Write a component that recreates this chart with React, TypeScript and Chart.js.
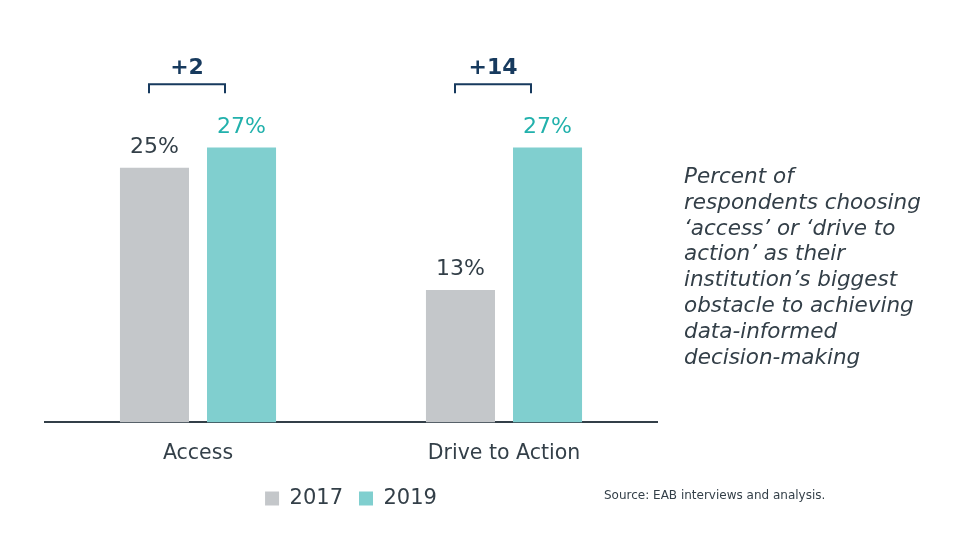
import React, { useEffect, useRef } from 'react';
import Chart from 'chart.js/auto';

const categories = ['Access', 'Drive to Action'];
const years = ['2017', '2019'];
const values2017 = [25, 13];
const values2019 = [27, 27];

const noteLines = [
  'Percent of',
  'respondents choosing',
  '\u2018access\u2019 or \u2018drive to',
  'action\u2019 as their',
  'institution\u2019s biggest',
  'obstacle to achieving',
  'data-informed',
  'decision-making',
];
const sourceText = 'Source: EAB interviews and analysis.';

const FONT = '"DejaVu Sans", Verdana, sans-serif';
const DARK = '#333f48';
const NAVY = '#173a5e';
const GRAY = '#c4c7ca';
const TEAL = '#80cfcf';
const TEAL_TEXT = '#22b1ac';

// value labels above bars + change brackets
const annotatePlugin = {
  id: 'annotate',
  afterDatasetsDraw(chart: any) {
    const ctx = chart.ctx;
    ctx.save();
    ctx.textAlign = 'center';
    ctx.textBaseline = 'alphabetic';
    ctx.font = `22px ${FONT}`;
    chart.data.datasets.forEach((ds: any, i: number) => {
      const meta = chart.getDatasetMeta(i);
      ctx.fillStyle = i === 0 ? DARK : TEAL_TEXT;
      meta.data.forEach((bar: any, j: number) => {
        ctx.fillText(ds.data[j] + '%', bar.x, bar.y - 14.5);
      });
    });

    const xs = chart.scales.x;
    const ys = chart.scales.y;
    const lineY = ys.getPixelForValue(33.2);
    categories.forEach((_, j) => {
      const cx = xs.getPixelForValue(j);
      const left = cx - 49;
      const right = cx + 27;
      ctx.strokeStyle = NAVY;
      ctx.lineWidth = 2;
      ctx.beginPath();
      ctx.moveTo(left, lineY + 9);
      ctx.lineTo(left, lineY);
      ctx.lineTo(right, lineY);
      ctx.lineTo(right, lineY + 9);
      ctx.stroke();
      ctx.fillStyle = NAVY;
      ctx.font = `bold 22px ${FONT}`;
      const diff = values2019[j] - values2017[j];
      ctx.fillText('+' + diff, (left + right) / 2, lineY - 10);
    });
    ctx.restore();
  },
};

const BarChart: React.FC = () => {
  const chartRef = useRef<HTMLCanvasElement>(null);
  const chartInstanceRef = useRef<Chart | null>(null);

  useEffect(() => {
    if (!chartRef.current) return;
    const ctx = chartRef.current.getContext('2d');
    if (!ctx) return;
    if (chartInstanceRef.current) {
      chartInstanceRef.current.destroy();
      chartInstanceRef.current = null;
    }

    chartInstanceRef.current = new Chart(ctx, {
      type: 'bar',
      data: {
        labels: categories,
        datasets: [
          {
            label: years[0],
            data: values2017,
            backgroundColor: GRAY,
            borderWidth: 0,
            categoryPercentage: 0.569,
            barPercentage: 0.793,
          },
          {
            label: years[1],
            data: values2019,
            backgroundColor: TEAL,
            borderWidth: 0,
            categoryPercentage: 0.569,
            barPercentage: 0.793,
          },
        ],
      },
      options: {
        animation: false,
        responsive: true,
        maintainAspectRatio: false,
        layout: { padding: { left: 45, right: 300, top: 15, bottom: 32 } },
        scales: {
          x: {
            grid: { display: false, drawTicks: false },
            border: { display: true, color: DARK, width: 2 },
            ticks: { color: DARK, font: { size: 20.5, family: FONT }, padding: 19 },
            afterFit: (scale: any) => {
              scale.height -= 13;
            },
          },
          y: { display: false, min: 0, max: 40 },
        },
        plugins: {
          legend: {
            position: 'bottom',
            labels: {
              boxWidth: 14,
              boxHeight: 14,
              padding: 16,
              color: DARK,
              font: { size: 21, family: FONT },
            },
          },
          tooltip: { enabled: false },
        },
      },
      plugins: [annotatePlugin],
    });

    return () => {
      if (chartInstanceRef.current) {
        chartInstanceRef.current.destroy();
        chartInstanceRef.current = null;
      }
    };
  }, []);

  return <canvas ref={chartRef} />;
};

const App: React.FC = () => {
  return (
    <div
      style={{
        position: 'fixed',
        left: 0,
        top: 0,
        width: 957,
        height: 551,
        background: '#fff',
        fontFamily: FONT,
        color: DARK,
      }}
    >
      <div style={{ position: 'absolute', left: 0, top: 0, width: 957, height: 551 }}>
        <BarChart />
      </div>
      <div
        style={{
          position: 'absolute',
          left: 684,
          top: 163,
          fontSize: 21.5,
          fontStyle: 'italic',
          lineHeight: '25.8px',
          whiteSpace: 'nowrap',
        }}
      >
        {noteLines.map((line, i) => (
          <div key={i}>{line}</div>
        ))}
      </div>
      <div
        style={{
          position: 'absolute',
          left: 604,
          top: 489,
          fontSize: 12,
          lineHeight: 1,
          whiteSpace: 'nowrap',
        }}
      >
        {sourceText}
      </div>
    </div>
  );
};

export default App;
